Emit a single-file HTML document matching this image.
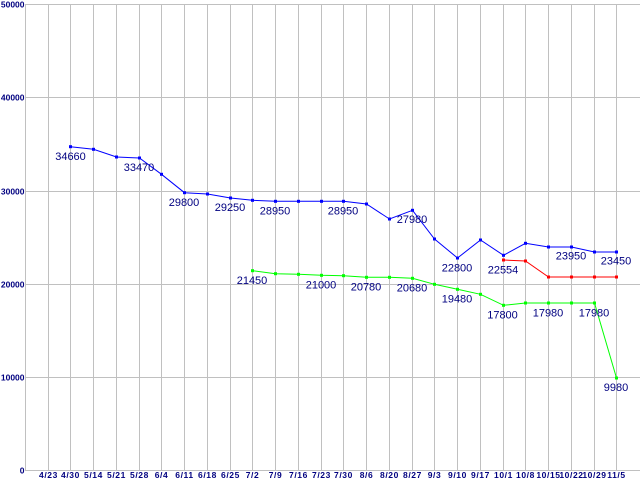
<!DOCTYPE html>
<html><head><meta charset="utf-8"><style>
html,body{margin:0;padding:0;background:#fff;}
svg{display:block;}
.g{stroke:#c0c0c0;stroke-width:1;fill:none;}
.ax{font-family:"Liberation Sans",sans-serif;font-size:8.5px;font-weight:bold;fill:#000080;letter-spacing:0.6px;}
.ay{font-family:"Liberation Sans",sans-serif;font-size:8.5px;font-weight:bold;fill:#000080;}
.lb{font-family:"Liberation Sans",sans-serif;font-size:11px;fill:#000080;text-anchor:middle;}
</style></head><body>
<svg width="640" height="480" viewBox="0 0 640 480" xmlns="http://www.w3.org/2000/svg">
<g class="g">
<line x1="25" y1="4.5" x2="640" y2="4.5"/>
<line x1="25" y1="97.5" x2="640" y2="97.5"/>
<line x1="25" y1="191.5" x2="640" y2="191.5"/>
<line x1="25" y1="284.5" x2="640" y2="284.5"/>
<line x1="25" y1="377.5" x2="640" y2="377.5"/>
<line x1="25" y1="470.5" x2="640" y2="470.5"/>
<line x1="25.5" y1="4" x2="25.5" y2="471"/>
<line x1="48.5" y1="4" x2="48.5" y2="471"/>
<line x1="70.5" y1="4" x2="70.5" y2="471"/>
<line x1="93.5" y1="4" x2="93.5" y2="471"/>
<line x1="116.5" y1="4" x2="116.5" y2="471"/>
<line x1="139.5" y1="4" x2="139.5" y2="471"/>
<line x1="161.5" y1="4" x2="161.5" y2="471"/>
<line x1="184.5" y1="4" x2="184.5" y2="471"/>
<line x1="207.5" y1="4" x2="207.5" y2="471"/>
<line x1="230.5" y1="4" x2="230.5" y2="471"/>
<line x1="252.5" y1="4" x2="252.5" y2="471"/>
<line x1="275.5" y1="4" x2="275.5" y2="471"/>
<line x1="298.5" y1="4" x2="298.5" y2="471"/>
<line x1="321.5" y1="4" x2="321.5" y2="471"/>
<line x1="343.5" y1="4" x2="343.5" y2="471"/>
<line x1="366.5" y1="4" x2="366.5" y2="471"/>
<line x1="389.5" y1="4" x2="389.5" y2="471"/>
<line x1="412.5" y1="4" x2="412.5" y2="471"/>
<line x1="434.5" y1="4" x2="434.5" y2="471"/>
<line x1="457.5" y1="4" x2="457.5" y2="471"/>
<line x1="480.5" y1="4" x2="480.5" y2="471"/>
<line x1="503.5" y1="4" x2="503.5" y2="471"/>
<line x1="525.5" y1="4" x2="525.5" y2="471"/>
<line x1="548.5" y1="4" x2="548.5" y2="471"/>
<line x1="571.5" y1="4" x2="571.5" y2="471"/>
<line x1="594.5" y1="4" x2="594.5" y2="471"/>
<line x1="616.5" y1="4" x2="616.5" y2="471"/>
</g>
<g class="ay" text-anchor="end">
<text x="24.5" y="7.5">50000</text>
<text x="24.5" y="100.5">40000</text>
<text x="24.5" y="194.5">30000</text>
<text x="24.5" y="287.5">20000</text>
<text x="24.5" y="380.5">10000</text>
<text x="24.5" y="473.5">0</text>
</g>
<g class="ax" text-anchor="middle">
<text x="48.5" y="478">4/23</text>
<text x="70.5" y="478">4/30</text>
<text x="93.5" y="478">5/14</text>
<text x="116.5" y="478">5/21</text>
<text x="139.5" y="478">5/28</text>
<text x="161.5" y="478">6/4</text>
<text x="184.5" y="478">6/11</text>
<text x="207.5" y="478">6/18</text>
<text x="230.5" y="478">6/25</text>
<text x="252.5" y="478">7/2</text>
<text x="275.5" y="478">7/9</text>
<text x="298.5" y="478">7/16</text>
<text x="321.5" y="478">7/23</text>
<text x="343.5" y="478">7/30</text>
<text x="366.5" y="478">8/6</text>
<text x="389.5" y="478">8/20</text>
<text x="412.5" y="478">8/27</text>
<text x="434.5" y="478">9/3</text>
<text x="457.5" y="478">9/10</text>
<text x="480.5" y="478">9/17</text>
<text x="503.5" y="478">10/1</text>
<text x="525.5" y="478">10/8</text>
<text x="548.5" y="478">10/15</text>
<text x="571.5" y="478">10/22</text>
<text x="594.5" y="478">10/29</text>
<text x="616.5" y="478">11/5</text>
</g>
<!-- blue -->
<polyline fill="none" stroke="#0000ff" stroke-width="1" points="70.5,146.7 93.5,149.3 116.5,157 139.5,158 161.5,174.3 184.5,192.7 207.5,194 230.5,198 252.5,200.3 275.5,201.3 298.5,201.3 321.5,201.3 343.5,201.3 366.5,204 389.5,219 412.5,210.3 434.5,239 457.5,258 480.5,240 503.5,255.3 525.5,243.3 548.5,247 571.5,247 594.5,252 616.5,252"/>
<g fill="#0000ff">
<rect x="69" y="145.2" width="3" height="3"/><rect x="92" y="147.8" width="3" height="3"/><rect x="115" y="155.5" width="3" height="3"/><rect x="138" y="156.5" width="3" height="3"/><rect x="160" y="172.8" width="3" height="3"/><rect x="183" y="191.2" width="3" height="3"/><rect x="206" y="192.5" width="3" height="3"/><rect x="229" y="196.5" width="3" height="3"/><rect x="251" y="198.8" width="3" height="3"/><rect x="274" y="199.8" width="3" height="3"/><rect x="297" y="199.8" width="3" height="3"/><rect x="320" y="199.8" width="3" height="3"/><rect x="342" y="199.8" width="3" height="3"/><rect x="365" y="202.5" width="3" height="3"/><rect x="388" y="217.5" width="3" height="3"/><rect x="411" y="208.8" width="3" height="3"/><rect x="433" y="237.5" width="3" height="3"/><rect x="456" y="256.5" width="3" height="3"/><rect x="479" y="238.5" width="3" height="3"/><rect x="502" y="253.8" width="3" height="3"/><rect x="524" y="241.8" width="3" height="3"/><rect x="547" y="245.5" width="3" height="3"/><rect x="570" y="245.5" width="3" height="3"/><rect x="593" y="250.5" width="3" height="3"/><rect x="615" y="250.5" width="3" height="3"/>
</g>
<!-- red -->
<polyline fill="none" stroke="#ff0000" stroke-width="1" points="503.5,260 525.5,261 548.5,277 571.5,277 594.5,277 616.5,277"/>
<g fill="#ff0000">
<rect x="502" y="258.5" width="3" height="3"/><rect x="524" y="259.5" width="3" height="3"/><rect x="547" y="275.5" width="3" height="3"/><rect x="570" y="275.5" width="3" height="3"/><rect x="593" y="275.5" width="3" height="3"/><rect x="615" y="275.5" width="3" height="3"/>
</g>
<!-- green -->
<polyline fill="none" stroke="#00ff00" stroke-width="1" points="252.5,270.7 275.5,273.7 298.5,274.3 321.5,275.3 343.5,275.7 366.5,277.3 389.5,277.3 412.5,278.3 434.5,284.3 457.5,289.3 480.5,294.3 503.5,305.3 525.5,303 548.5,303 571.5,303 594.5,303 616.5,378"/>
<g fill="#00ff00">
<rect x="251" y="269.2" width="3" height="3"/><rect x="274" y="272.2" width="3" height="3"/><rect x="297" y="272.8" width="3" height="3"/><rect x="320" y="273.8" width="3" height="3"/><rect x="342" y="274.2" width="3" height="3"/><rect x="365" y="275.8" width="3" height="3"/><rect x="388" y="275.8" width="3" height="3"/><rect x="411" y="276.8" width="3" height="3"/><rect x="433" y="282.8" width="3" height="3"/><rect x="456" y="287.8" width="3" height="3"/><rect x="479" y="292.8" width="3" height="3"/><rect x="502" y="303.8" width="3" height="3"/><rect x="524" y="301.5" width="3" height="3"/><rect x="547" y="301.5" width="3" height="3"/><rect x="570" y="301.5" width="3" height="3"/><rect x="593" y="301.5" width="3" height="3"/><rect x="615" y="376.5" width="3" height="3"/>
</g>
<!-- labels -->
<g class="lb">
<text x="70.5" y="160">34660</text>
<text x="139" y="171">33470</text>
<text x="184" y="206">29800</text>
<text x="230" y="211">29250</text>
<text x="275" y="214.5">28950</text>
<text x="343" y="214.5">28950</text>
<text x="412" y="223">27980</text>
<text x="457" y="271.5">22800</text>
<text x="503" y="273.5">22554</text>
<text x="571" y="259.5">23950</text>
<text x="616" y="264.5">23450</text>
<text x="252" y="284">21450</text>
<text x="321" y="288.5">21000</text>
<text x="366" y="290.5">20780</text>
<text x="412" y="291.5">20680</text>
<text x="457" y="302.5">19480</text>
<text x="502.5" y="318.5">17800</text>
<text x="548" y="316.5">17980</text>
<text x="594" y="316.5">17980</text>
<text x="616" y="391">9980</text>
</g>
</svg>
</body></html>
